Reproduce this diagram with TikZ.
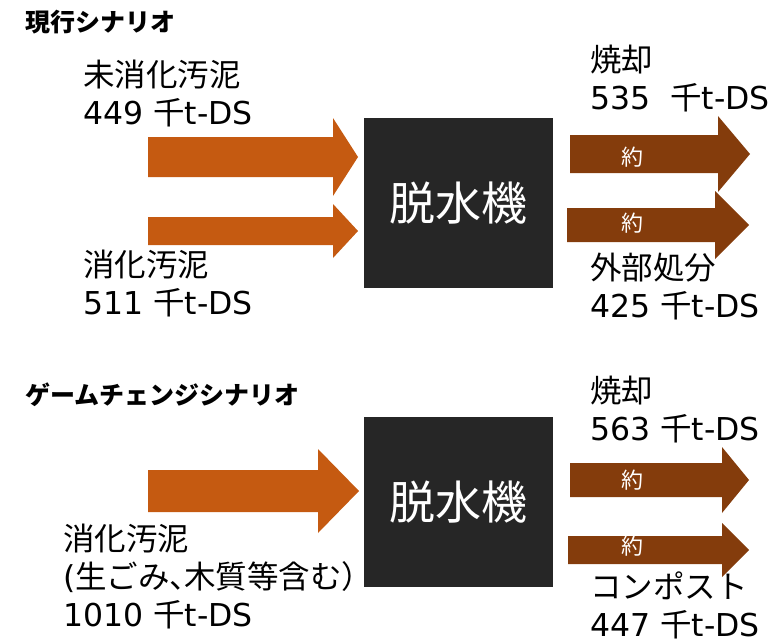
\documentclass[tikz,border=0pt]{standalone}
\usepackage{fontspec}
\setmainfont{Noto Sans CJK JP}
\newfontfamily\latin{DejaVu Sans}
\usepackage{tikz}
\usetikzlibrary{positioning}
\usepackage{xcolor}
\definecolor{sludge}{RGB}{197,90,17}
\definecolor{outflow}{RGB}{132,60,12}
\definecolor{machine}{RGB}{38,38,38}

% block arrow: x start, head base x, tip x, mid y, half body, half head
\newcommand{\blkarrow}[7]{%
  \fill[#7] (#1,#4-#5) -- (#2,#4-#5) -- (#2,#4-#6) -- (#3,#4)
    -- (#2,#4+#6) -- (#2,#4+#5) -- (#1,#4+#5) -- cycle;}
% amount in 千t-DS
\newcommand{\tds}[1]{{\latin #1 }千{\latin t-DS}}

\tikzset{
  label/.style={anchor=west, align=left, inner sep=0pt,
    font=\fontsize{31.5}{38}\selectfont},
  title/.style={anchor=west, inner sep=0pt,
    font=\fontsize{25}{30}\selectfont\bfseries},
  dewater/.style={fill=machine, text=white, inner sep=0pt,
    minimum width=189, minimum height=170,
    font=\fontsize{46}{50}\selectfont},
  approx/.style={text=white, inner sep=0pt,
    font=\fontsize{22}{26}\selectfont}
}

\begin{document}
\begin{tikzpicture}[x=1pt, y=-1pt]
    \useasboundingbox (0,0) rectangle (782,643);

    % 現行シナリオ
    \node[title] (t1) at (25,22) {現行シナリオ};
    \blkarrow{148}{333}{358}{157}{20}{39}{sludge}
    \blkarrow{148}{333}{358}{231}{14}{27}{sludge}
    \node[dewater] (m1) at (458.5,203) {脱水機};
    \node[label] (in1) at (83,94) {未消化汚泥\\\tds{449}};
    \node[label] (in2) at (83,284) {消化汚泥\\\tds{511}};
    \blkarrow{570}{718}{750}{154}{19}{38}{outflow}
    \blkarrow{567}{715}{749}{225}{17}{34}{outflow}
    \node[approx] (a1) at (632,157) {約};
    \node[approx] (a2) at (632,223) {約};
    \node[label] (o1) at (590,79) {焼却\\{\latin 535 \ }千{\latin t-DS}};
    \node[label] (o2) at (590,287) {外部処分\\\tds{425}};

    % ゲームチェンジシナリオ
    \node[title] (t2) at (25,395) {ゲームチェンジシナリオ};
    \blkarrow{148}{318}{359}{491}{21}{42}{sludge}
    \node[dewater] (m2) at (458.5,502) {脱水機};
    \node[label] (in3) at (63,577)
      {消化汚泥\\{\latin (}生ごみ\makebox[0.45em][l]{、}木質等含む）\\\tds{1010}};
    \blkarrow{570}{722}{749}{480}{17}{33}{outflow}
    \blkarrow{568}{722}{749}{550}{14}{27}{outflow}
    \node[approx] (a3) at (632,480) {約};
    \node[approx] (a4) at (632,546) {約};
    \node[label] (o3) at (590,410) {焼却\\\tds{563}};
    \node[label] (o4) at (590,605) {コンポスト\\\tds{447}};
\end{tikzpicture}
\end{document}
